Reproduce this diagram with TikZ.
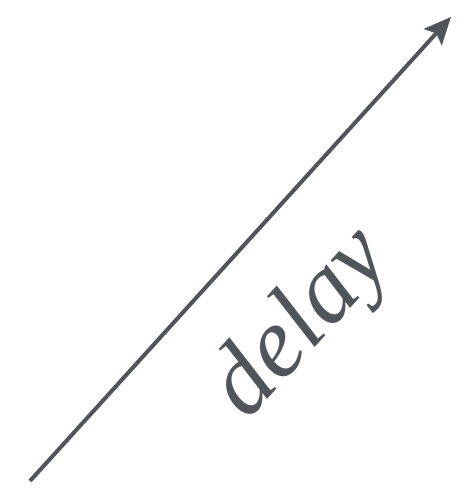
\documentclass[tikz,border=0pt]{standalone}
\usepackage{fontspec}
\newfontfamily\delayfont{Liberation Serif Italic}
\usetikzlibrary{arrows.meta}
\definecolor{axisgray}{HTML}{50555B}
\begin{document}
\begin{tikzpicture}[x=1pt,y=1pt,>={Stealth[length=27pt,width=24pt,inset=5pt]}]
  \useasboundingbox (0,0) rectangle (462,490);
  \coordinate (start) at (30,9);
  \coordinate (end) at (451,473);
  \draw[->,line width=4pt,axisgray] (start) -- (end);
  \node[axisgray,rotate=47.8,inner sep=0pt] (delay) at (303,165)
    {\fontsize{100}{100}\delayfont delay};
\end{tikzpicture}
\end{document}
